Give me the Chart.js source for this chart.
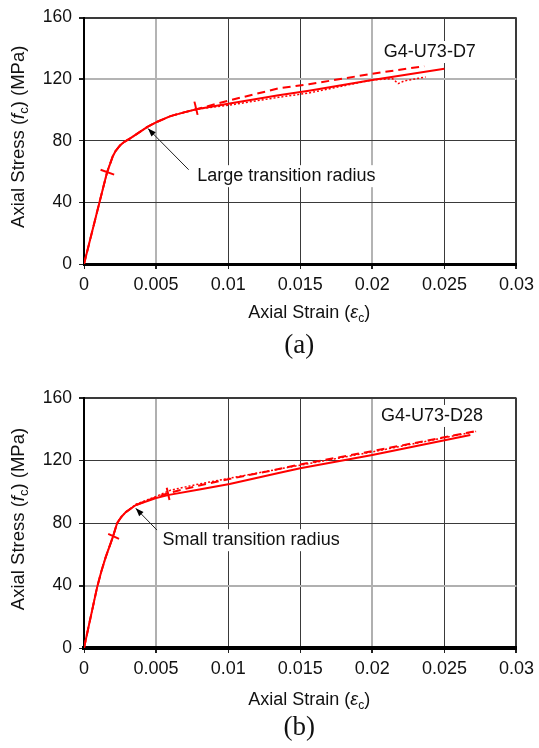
<!DOCTYPE html>
<html lang="en">
<head>
<meta charset="UTF-8">
<title>Axial stress-strain curves G4-U73</title>
<script src="https://cdn.jsdelivr.net/npm/chart.js"></script>
<style>
  body { margin: 0; background: #fff; }
  .panel { position: relative; width: 539px; height: 374px; }
  canvas { display: block; }
</style>
</head>
<body>
<div class="panel"><canvas id="chartA" width="539" height="374"></canvas></div>
<div class="panel"><canvas id="chartB" width="539" height="374"></canvas></div>

<script>
// tick labels
const xTickLabels = ['0', '0.005', '0.01', '0.015', '0.02', '0.025', '0.03'];

// (a) G4-U73-D7
const aSolidStrain = [0, 0.0011, 0.0016, 0.002, 0.0022, 0.0025, 0.0028, 0.0032, 0.0044, 0.005, 0.006, 0.007, 0.0078, 0.01, 0.0135, 0.0156, 0.02, 0.025];
const aSolidStress = [0, 41, 59.5, 70, 73.5, 77, 79.3, 81.5, 89, 92, 96, 98.6, 100.5, 104, 109.5, 112.5, 119.5, 126.7];
const aDashStrain = [0, 0.0011, 0.0016, 0.002, 0.0022, 0.0025, 0.0028, 0.0032, 0.0044, 0.005, 0.006, 0.007, 0.0078, 0.01, 0.0135, 0.0156, 0.02, 0.0236];
const aDashStress = [0, 41, 59.5, 70, 73.5, 77, 79.3, 81.5, 89, 92, 96, 98.6, 100.5, 106, 114, 116.7, 123.5, 128.4];
const aDotStrain = [0, 0.0011, 0.0016, 0.002, 0.0022, 0.0025, 0.0028, 0.0032, 0.0044, 0.005, 0.006, 0.007, 0.0078, 0.01, 0.0135, 0.0156, 0.02, 0.0214, 0.0218, 0.0222, 0.0237];
const aDotStress = [0, 41, 59.5, 70, 73.5, 77, 79.3, 81.5, 89, 92, 96, 98.6, 100.5, 103, 108.2, 111, 119.5, 120.3, 117.1, 118.8, 121.4];
const aMark1Strain = [0.00115, 0.00209];
const aMark1Stress = [61.2, 58.0];
const aMark2Strain = [0.00766, 0.00788];
const aMark2Stress = [105.4, 96.8];

// (b) G4-U73-D28
const bSolidStrain = [0, 0.0009, 0.0012, 0.0015, 0.002, 0.0023, 0.0026, 0.0029, 0.0036, 0.005, 0.0059, 0.008, 0.0101, 0.0135, 0.015, 0.02, 0.0268];
const bSolidStress = [0, 38.5, 49, 58, 71, 80, 84, 87, 91.5, 96, 98, 101.5, 105, 112, 115, 123.5, 136.3];
const bDashStrain = [0, 0.0009, 0.0012, 0.0015, 0.002, 0.0023, 0.0026, 0.0029, 0.0036, 0.005, 0.006, 0.008, 0.01, 0.0135, 0.015, 0.02, 0.0273];
const bDashStress = [0, 38.5, 49, 58, 71, 80, 84, 87, 91.5, 96.5, 99.5, 104, 108, 114.5, 117.5, 126, 139];
const bDotStrain = [0, 0.0009, 0.0012, 0.0015, 0.002, 0.0023, 0.0026, 0.0029, 0.0036, 0.005, 0.006, 0.008, 0.01, 0.0135, 0.015, 0.02, 0.0272];
const bDotStress = [0, 38.5, 49, 58, 71, 80, 84, 87, 92, 97, 101, 105, 108.5, 114.5, 117, 125.5, 138.6];
const bMark1Strain = [0.00168, 0.00243];
const bMark1Stress = [73, 69.8];
const bMark2Strain = [0.00574, 0.00593];
const bMark2Stress = [102.6, 94.7];

const SANS = '"Liberation Sans", Arial, Helvetica, sans-serif';
const RED = '#ff0000';

function pts(xs, ys) {
  return xs.map((v, i) => ({ x: v, y: ys[i] }));
}

function line(xs, ys, dash, width) {
  return {
    data: pts(xs, ys),
    showLine: true,
    borderColor: RED,
    borderWidth: width,
    borderDash: dash,
    borderJoinStyle: 'round',
    pointRadius: 0,
    tension: 0,
    fill: false
  };
}

// text pieces: [text, style] style '' | 'i' | 'sub'
function partFont(p, size) {
  const s = p[1] === 'sub' ? Math.round(size * 0.68) : size;
  return (p[1] === 'i' ? 'italic ' : '') + s + 'px ' + SANS;
}
function drawRich(ctx, parts, cx, cy, size, angle) {
  ctx.save();
  ctx.translate(cx, cy);
  ctx.rotate(angle);
  let total = 0;
  parts.forEach(p => { ctx.font = partFont(p, size); total += ctx.measureText(p[0]).width; });
  let x = -total / 2;
  ctx.fillStyle = '#111';
  ctx.textBaseline = 'middle';
  ctx.textAlign = 'left';
  parts.forEach(p => {
    ctx.font = partFont(p, size);
    ctx.fillText(p[0], x, p[1] === 'sub' ? size * 0.32 : 0);
    x += ctx.measureText(p[0]).width;
  });
  ctx.restore();
}

const xTitle = [['Axial Strain (', ''], ['\u03b5', 'i'], ['c', 'sub'], [')', '']];
const yTitle = [['Axial Stress (', ''], ['f', 'i'], ['c', 'sub'], [') (MPa)', '']];

function extras(o) {
  return {
    id: 'extras',
    beforeDatasetsDraw(chart) {
      const { ctx, scales: { x, y } } = chart;
      [o.note, o.label].forEach(t => {
        ctx.save();
        ctx.font = '18px ' + SANS;
        const px = x.getPixelForValue(t.x), py = y.getPixelForValue(t.y);
        const w = ctx.measureText(t.text).width;
        ctx.fillStyle = '#fff';
        ctx.fillRect(px - 3, py - 11, w + 6, 22);
        ctx.fillStyle = '#111';
        ctx.textBaseline = 'middle';
        ctx.fillText(t.text, px, py);
        ctx.restore();
      });
    },
    afterDatasetsDraw(chart) {
      const { ctx, scales: { x, y } } = chart;
      const hx = x.getPixelForValue(o.arrow.x1), hy = y.getPixelForValue(o.arrow.y1);
      const tx = x.getPixelForValue(o.arrow.x0), ty = y.getPixelForValue(o.arrow.y0);
      const a = Math.atan2(hy - ty, hx - tx);
      ctx.save();
      ctx.strokeStyle = '#222';
      ctx.lineWidth = 1;
      ctx.beginPath();
      ctx.moveTo(tx, ty);
      ctx.lineTo(hx, hy);
      ctx.stroke();
      ctx.fillStyle = '#000';
      ctx.beginPath();
      ctx.moveTo(hx, hy);
      ctx.lineTo(hx - 8 * Math.cos(a) + 3 * Math.sin(a), hy - 8 * Math.sin(a) - 3 * Math.cos(a));
      ctx.lineTo(hx - 8 * Math.cos(a) - 3 * Math.sin(a), hy - 8 * Math.sin(a) + 3 * Math.cos(a));
      ctx.closePath();
      ctx.fill();
      ctx.restore();
    },
    afterDraw(chart) {
      const { ctx, chartArea: ca } = chart;
      const midX = (ca.left + ca.right) / 2;
      drawRich(ctx, xTitle, midX + 9, ca.bottom + o.xTitleGap, 18, 0);
      drawRich(ctx, yTitle, 19, (ca.top + ca.bottom) / 2 - 4, 18.5, -Math.PI / 2);
      ctx.save();
      ctx.font = '27px "Liberation Serif", "Times New Roman", serif';
      ctx.fillStyle = '#111';
      ctx.textAlign = 'center';
      ctx.textBaseline = 'middle';
      ctx.fillText(o.panel, midX - 1, ca.bottom + o.panelGap);
      ctx.restore();
    }
  };
}

function makeChart(id, datasets, o) {
  const gridCol = (ctx, light) => {
    const v = ctx.tick ? ctx.tick.value : null;
    if (light.some(l => Math.abs(l - v) < 1e-9)) return o.lightCol || '#b0b0b0';
    return '#3a3a3a';
  };
  const gridW = (ctx, light, last) => {
    const v = ctx.tick ? ctx.tick.value : null;
    if (light.some(l => Math.abs(l - v) < 1e-9)) return 2;
    if (Math.abs(v - last) < 1e-9) return 2;
    return 1;
  };
  return new Chart(document.getElementById(id), {
    type: 'scatter',
    data: { datasets },
    options: {
      responsive: false,
      animation: false,
      devicePixelRatio: 1,
      layout: { padding: { top: o.top, right: 20, left: 0, bottom: 0 } },
      plugins: { legend: { display: false }, tooltip: { enabled: false } },
      scales: {
        x: {
          type: 'linear',
          min: 0, max: 0.03,
          afterFit: s => { s.height = o.xHeight; },
          afterBuildTicks: s => { s.ticks = xTickLabels.map((t, i) => ({ value: i * 0.005 })); },
          ticks: {
            autoSkip: false, maxRotation: 0, padding: 5,
            color: '#111', font: { family: SANS, size: 18 },
            callback: (v, i) => xTickLabels[i]
          },
          grid: {
            color: c => gridCol(c, o.lightX),
            lineWidth: c => gridW(c, o.lightX, 0.03),
            tickColor: '#222', tickLength: 5
          },
          border: { color: '#000', width: o.xBorder }
        },
        y: {
          min: 0, max: 160,
          afterFit: s => { s.width = 84; },
          ticks: {
            stepSize: 40, padding: 7,
            color: '#111', font: { family: SANS, size: 17.5 }
          },
          grid: {
            color: c => gridCol(c, o.lightY),
            lineWidth: c => gridW(c, o.lightY, 160),
            tickColor: '#222', tickLength: 5
          },
          border: { color: '#000', width: 2 }
        }
      }
    },
    plugins: [extras(o)]
  });
}

makeChart('chartA', [
  line(aDotStrain, aDotStress, [2, 2], 1.5),
  line(aDashStrain, aDashStress, [8, 5], 2),
  line(aSolidStrain, aSolidStress, [], 2),
  line(aMark1Strain, aMark1Stress, [], 2),
  line(aMark2Strain, aMark2Stress, [], 2)
], {
  top: 14, xHeight: 110, xBorder: 3,
  lightX: [0.005, 0.02], lightY: [120], lightCol: '#b4b4b4',
  note: { x: 0.00786, y: 57, text: 'Large transition radius' },
  label: { x: 0.0208, y: 137.6, text: 'G4-U73-D7' },
  arrow: { x0: 0.00726, y0: 61.2, x1: 0.00444, y1: 87.9 },
  xTitleGap: 49, panelGap: 82, panel: '(a)'
});

makeChart('chartB', [
  line(bDotStrain, bDotStress, [2, 2], 1.5),
  line(bDashStrain, bDashStress, [8, 5], 2),
  line(bSolidStrain, bSolidStress, [], 2),
  line(bMark1Strain, bMark1Stress, [], 2),
  line(bMark2Strain, bMark2Stress, [], 2)
], {
  top: 24, xHeight: 100, xBorder: 4,
  lightX: [0.005, 0.02], lightY: [40],
  note: { x: 0.00545, y: 69, text: 'Small transition radius' },
  label: { x: 0.0206, y: 148.5, text: 'G4-U73-D28' },
  arrow: { x0: 0.00506, y0: 75.5, x1: 0.00359, y1: 89.4 },
  xTitleGap: 52, panelGap: 80, panel: '(b)'
});
</script>
</body>
</html>
